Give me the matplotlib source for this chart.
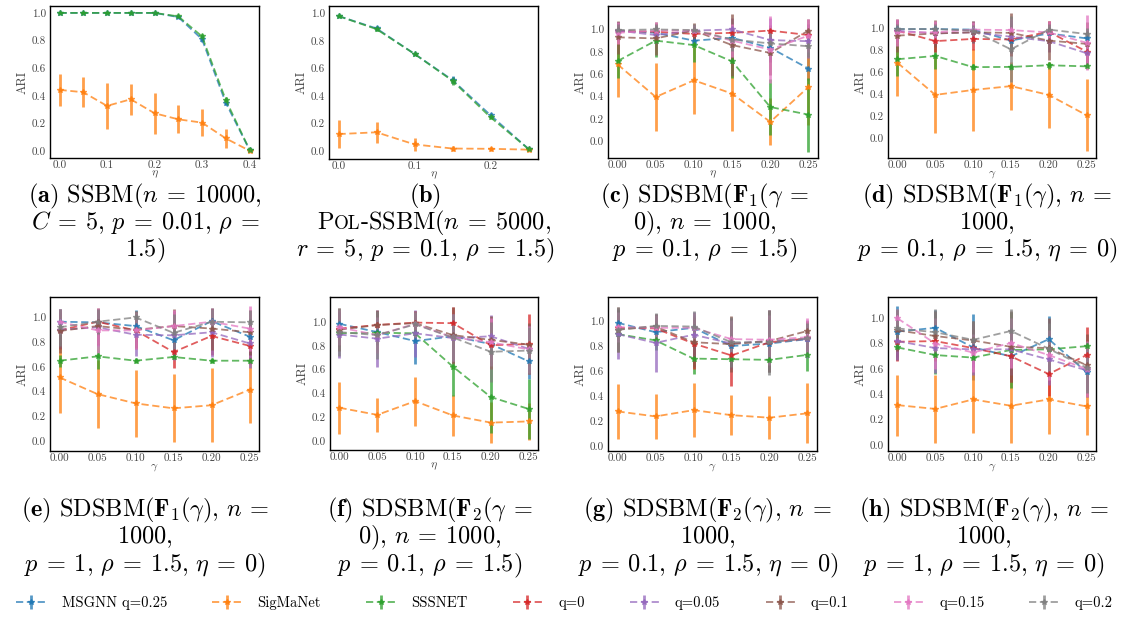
import matplotlib
matplotlib.use("Agg")
import matplotlib.pyplot as plt
import numpy as np

plt.rcParams['font.family'] = ['cmr10', 'DejaVu Serif']
plt.rcParams['mathtext.fontset'] = 'cm'
plt.rcParams['axes.formatter.use_mathtext'] = True

W, H = 1129, 618

labels = ["MSGNN q=0.25", "SigMaNet", "SSSNET", "q=0", "q=0.05", "q=0.1", "q=0.15", "q=0.2"]
colors = ["#1f77b4", "#ff7f0e", "#2ca02c", "#d62728", "#9467bd", "#8c564b", "#e377c2", "#7f7f7f"]

# ---- panel (a): SSBM, eta on x ----
a_x = [0.0, 0.05, 0.1, 0.15, 0.2, 0.25, 0.3, 0.35, 0.4]
a_mean = [
    [1.0, 1.0, 1.0, 1.0, 1.0, 0.97, 0.81, 0.35, 0.01],
    [0.443, 0.426, 0.327, 0.375, 0.274, 0.23, 0.206, 0.092, 0.003],
    [1.0, 1.0, 1.0, 1.0, 1.0, 0.975, 0.83, 0.37, 0.01],
]
a_err = [
    [0.003, 0.003, 0.003, 0.003, 0.005, 0.01, 0.02, 0.02, 0.01],
    [0.115, 0.11, 0.165, 0.113, 0.15, 0.1, 0.1, 0.07, 0.01],
    [0.003, 0.003, 0.003, 0.003, 0.005, 0.01, 0.02, 0.02, 0.01],
]

# ---- panel (b): POL-SSBM, eta on x ----
b_x = [0.0, 0.05, 0.1, 0.15, 0.2, 0.25]
b_mean = [
    [0.98, 0.89, 0.705, 0.515, 0.26, 0.015],
    [0.123, 0.136, 0.048, 0.018, 0.016, 0.01],
    [0.98, 0.885, 0.705, 0.51, 0.245, 0.015],
]
b_err = [
    [0.005, 0.015, 0.01, 0.03, 0.015, 0.01],
    [0.1, 0.075, 0.05, 0.02, 0.015, 0.005],
    [0.005, 0.015, 0.01, 0.03, 0.015, 0.01],
]

g_x = [0.0, 0.05, 0.1, 0.15, 0.2, 0.25]

# ---- panel (c) ----
c_mean = [
    [0.99, 0.97, 0.90, 0.925, 0.836, 0.65],
    [0.688, 0.396, 0.545, 0.426, 0.173, 0.485],
    [0.717, 0.90, 0.86, 0.714, 0.306, 0.238],
    [0.985, 0.98, 0.96, 0.97, 0.99, 0.95],
    [0.99, 0.95, 0.99, 1.0, 0.905, 0.895],
    [0.93, 0.92, 0.99, 0.86, 0.79, 0.99],
    [0.97, 0.99, 0.99, 0.90, 0.82, 0.945],
    [0.995, 1.0, 0.995, 0.91, 0.875, 0.85],
]
c_err = [
    [0.08, 0.05, 0.05, 0.08, 0.1, 0.1],
    [0.29, 0.3, 0.3, 0.33, 0.21, 0.34],
    [0.15, 0.15, 0.15, 0.15, 0.25, 0.33],
    [0.05, 0.05, 0.05, 0.05, 0.05, 0.05],
    [0.08, 0.08, 0.05, 0.1, 0.2, 0.15],
    [0.15, 0.15, 0.07, 0.28, 0.2, 0.1],
    [0.1, 0.08, 0.05, 0.15, 0.3, 0.15],
    [0.05, 0.05, 0.05, 0.1, 0.1, 0.1],
]

# ---- panel (d) ----
d_mean = [
    [0.995, 0.995, 0.99, 0.89, 0.955, 0.91],
    [0.688, 0.395, 0.44, 0.475, 0.395, 0.21],
    [0.72, 0.75, 0.648, 0.65, 0.665, 0.655],
    [0.98, 0.885, 0.905, 0.90, 0.97, 0.79],
    [0.98, 0.955, 0.965, 0.925, 0.885, 0.775],
    [0.935, 0.955, 0.965, 0.96, 0.89, 0.86],
    [0.965, 0.965, 0.99, 0.985, 0.965, 0.87],
    [0.995, 0.995, 0.98, 0.81, 0.99, 0.95],
]
d_err = [
    [0.05, 0.05, 0.05, 0.1, 0.05, 0.05],
    [0.3, 0.345, 0.37, 0.22, 0.3, 0.33],
    [0.15, 0.12, 0.03, 0.03, 0.03, 0.02],
    [0.1, 0.1, 0.1, 0.15, 0.1, 0.1],
    [0.1, 0.1, 0.1, 0.15, 0.1, 0.1],
    [0.15, 0.12, 0.1, 0.18, 0.18, 0.2],
    [0.12, 0.1, 0.07, 0.1, 0.1, 0.25],
    [0.05, 0.05, 0.05, 0.3, 0.05, 0.05],
]

# ---- panel (e) ----
e_mean = [
    [0.965, 0.96, 0.93, 0.815, 0.97, 0.845],
    [0.515, 0.38, 0.305, 0.265, 0.29, 0.415],
    [0.65, 0.685, 0.65, 0.68, 0.65, 0.65],
    [0.895, 0.965, 0.895, 0.72, 0.85, 0.77],
    [0.90, 0.92, 0.86, 0.855, 0.88, 0.79],
    [0.89, 0.93, 0.90, 0.93, 0.91, 0.88],
    [0.965, 0.895, 0.895, 0.93, 0.965, 0.91],
    [0.92, 0.965, 1.0, 0.875, 0.965, 0.96],
]
e_err = [
    [0.1, 0.1, 0.13, 0.15, 0.1, 0.15],
    [0.285, 0.275, 0.27, 0.275, 0.3, 0.265],
    [0.05, 0.1, 0.02, 0.02, 0.02, 0.02],
    [0.15, 0.1, 0.15, 0.13, 0.15, 0.15],
    [0.15, 0.15, 0.17, 0.2, 0.2, 0.2],
    [0.18, 0.15, 0.15, 0.14, 0.17, 0.18],
    [0.1, 0.18, 0.15, 0.13, 0.1, 0.18],
    [0.15, 0.1, 0.05, 0.15, 0.1, 0.1],
]

# ---- panel (f) ----
f_mean = [
    [0.985, 0.915, 0.84, 0.88, 0.815, 0.67],
    [0.28, 0.22, 0.335, 0.215, 0.155, 0.165],
    [0.905, 0.91, 0.905, 0.625, 0.37, 0.27],
    [0.945, 0.975, 0.995, 0.99, 0.805, 0.815],
    [0.895, 0.86, 0.905, 0.865, 0.88, 0.775],
    [0.935, 0.975, 0.99, 0.89, 0.85, 0.81],
    [0.955, 0.89, 0.985, 0.87, 0.83, 0.77],
    [0.915, 0.89, 0.98, 0.87, 0.75, 0.76],
]
f_err = [
    [0.1, 0.1, 0.19, 0.1, 0.1, 0.15],
    [0.22, 0.14, 0.205, 0.17, 0.17, 0.155],
    [0.1, 0.1, 0.05, 0.25, 0.3, 0.25],
    [0.15, 0.12, 0.1, 0.14, 0.2, 0.255],
    [0.2, 0.24, 0.2, 0.2, 0.18, 0.2],
    [0.18, 0.13, 0.1, 0.24, 0.2, 0.18],
    [0.15, 0.15, 0.1, 0.2, 0.2, 0.2],
    [0.2, 0.2, 0.1, 0.2, 0.25, 0.2],
]

# ---- panel (g) ----
gg_mean = [
    [0.985, 0.91, 0.945, 0.80, 0.82, 0.855],
    [0.28, 0.24, 0.29, 0.25, 0.23, 0.265],
    [0.895, 0.845, 0.70, 0.695, 0.69, 0.73],
    [0.945, 0.94, 0.82, 0.725, 0.83, 0.86],
    [0.895, 0.825, 0.89, 0.82, 0.84, 0.855],
    [0.93, 0.955, 0.83, 0.815, 0.84, 0.92],
    [0.95, 0.945, 0.945, 0.855, 0.85, 0.87],
    [0.93, 0.96, 0.955, 0.83, 0.83, 0.86],
]
gg_err = [
    [0.1, 0.1, 0.1, 0.1, 0.2, 0.1],
    [0.22, 0.18, 0.215, 0.16, 0.17, 0.24],
    [0.05, 0.08, 0.12, 0.05, 0.1, 0.13],
    [0.1, 0.1, 0.2, 0.24, 0.2, 0.1],
    [0.2, 0.23, 0.18, 0.2, 0.25, 0.15],
    [0.18, 0.1, 0.2, 0.22, 0.25, 0.08],
    [0.12, 0.1, 0.12, 0.15, 0.2, 0.15],
    [0.18, 0.1, 0.12, 0.2, 0.26, 0.12],
]

# ---- panel (h) ----
h_mean = [
    [0.895, 0.925, 0.77, 0.70, 0.835, 0.575],
    [0.315, 0.285, 0.36, 0.31, 0.36, 0.305],
    [0.77, 0.71, 0.69, 0.75, 0.755, 0.78],
    [0.815, 0.82, 0.765, 0.70, 0.56, 0.71],
    [0.82, 0.765, 0.755, 0.755, 0.675, 0.59],
    [0.905, 0.86, 0.825, 0.775, 0.765, 0.63],
    [1.0, 0.80, 0.73, 0.805, 0.71, 0.60],
    [0.92, 0.89, 0.83, 0.90, 0.76, 0.61],
]
h_err = [
    [0.2, 0.14, 0.26, 0.2, 0.18, 0.15],
    [0.24, 0.265, 0.265, 0.295, 0.27, 0.225],
    [0.1, 0.15, 0.05, 0.3, 0.05, 0.05],
    [0.15, 0.15, 0.15, 0.2, 0.17, 0.22],
    [0.15, 0.2, 0.2, 0.2, 0.2, 0.15],
    [0.16, 0.2, 0.15, 0.28, 0.24, 0.25],
    [0.07, 0.2, 0.15, 0.2, 0.2, 0.22],
    [0.15, 0.18, 0.15, 0.17, 0.2, 0.2],
]

fig = plt.figure(figsize=(W / 100, H / 100), dpi=100)


def add_ax(l, r, t, b):
    return fig.add_axes([l / W, 1 - b / H, (r - l) / W, (b - t) / H])


def draw(ax, x, means, errs, xlabel, ylim, xticks, xfmt):
    hs = []
    for i, (m, e) in enumerate(zip(means, errs)):
        h = ax.errorbar(x, m, yerr=e, fmt='--', marker='*', ms=4,
                        color=colors[i], lw=1.3, elinewidth=2, alpha=0.75,
                        capsize=0, dashes=(4, 2))
        hs.append(h)
    ax.set_ylim(*ylim)
    span = x[-1] - x[0]
    ax.set_xlim(x[0] - 0.05 * span, x[-1] + 0.05 * span)
    ax.set_yticks([0.0, 0.2, 0.4, 0.6, 0.8, 1.0])
    ax.set_yticklabels(["%.1f" % v for v in [0.0, 0.2, 0.4, 0.6, 0.8, 1.0]])
    ax.set_xticks(xticks)
    ax.set_xticklabels([xfmt % v for v in xticks])
    ax.tick_params(axis='y', length=0, pad=3, labelsize=8, labelcolor='#444444')
    ax.tick_params(axis='x', length=0, pad=2, labelsize=8, labelcolor='#444444')
    ax.set_ylabel("ARI", fontsize=9, color='#444444', labelpad=2)
    ax.set_xlabel(xlabel, fontsize=8.5, color='#444444', labelpad=-1)
    for s in ax.spines.values():
        s.set_linewidth(1.0)
    return hs


eta = r"$\eta$"
gam = r"$\gamma$"
six = [0.0, 0.05, 0.1, 0.15, 0.2, 0.25]

ax = add_ax(50, 259, 6, 158)
draw(ax, a_x, a_mean, a_err, eta, (-0.05, 1.05), [0.0, 0.1, 0.2, 0.3, 0.4], "%.1f")
ax = add_ax(329, 538, 6, 159)
draw(ax, b_x, b_mean, b_err, eta, (-0.058, 1.053), [0.0, 0.1, 0.2], "%.1f")
ax = add_ax(608, 818, 6, 158)
hs = draw(ax, g_x, c_mean, c_err, eta, (-0.15, 1.21), six, "%.2f")
ax = add_ax(888, 1096, 6, 158)
draw(ax, g_x, d_mean, d_err, gam, (-0.18, 1.205), six, "%.2f")
ax = add_ax(50, 259, 297, 451)
draw(ax, g_x, e_mean, e_err, gam, (-0.08, 1.165), six, "%.2f")
ax = add_ax(330, 538, 297, 450)
draw(ax, g_x, f_mean, f_err, eta, (-0.075, 1.21), six, "%.2f")
ax = add_ax(608, 817, 297, 451)
draw(ax, g_x, gg_mean, gg_err, gam, (-0.035, 1.19), six, "%.2f")
ax = add_ax(888, 1096, 297, 451)
draw(ax, g_x, h_mean, h_err, gam, (-0.047, 1.168), six, "%.2f")

CFS = 17.5


def cap(cx, cys, lines):
    for cy, ln in zip(cys, lines):
        if ln is None:
            continue
        fig.text(cx / W, 1 - cy / H, ln, ha='center', va='baseline', fontsize=CFS)


top = [202, 229, 256]
bot = [516, 543, 571]
EQ = r"\:=\:"
CM = r",\,"
cap(145, top, [r"$\mathbf{(a)}$ SSBM($n" + EQ + r"10000,$",
               r"$C" + EQ + "5" + CM + "p" + EQ + "0.01" + CM + r"\rho" + EQ + "$",
               r"$1.5)$"])
cap(425, top, [r"$\mathbf{(b)}$", None,
               r"$r" + EQ + "5" + CM + "p" + EQ + "0.1" + CM + r"\rho" + EQ + "1.5)$"])
cap(705, top, [r"$\mathbf{(c)}$ SDSBM($\mathbf{F}_1(\gamma" + EQ + "$",
               r"$0)" + CM + "n" + EQ + "1000,$",
               r"$p" + EQ + "0.1" + CM + r"\rho" + EQ + "1.5)$"])
cap(987, top, [r"$\mathbf{(d)}$ SDSBM($\mathbf{F}_1(\gamma)" + CM + "n" + EQ + "$",
               r"$1000,$",
               r"$p" + EQ + "0.1" + CM + r"\rho" + EQ + "1.5" + CM + r"\eta" + EQ + "0)$"])
cap(145, bot, [r"$\mathbf{(e)}$ SDSBM($\mathbf{F}_1(\gamma)" + CM + "n" + EQ + "$",
               r"$1000,$",
               r"$p" + EQ + "1" + CM + r"\rho" + EQ + "1.5" + CM + r"\eta" + EQ + "0)$"])
cap(430, bot, [r"$\mathbf{(f)}$ SDSBM($\mathbf{F}_2(\gamma" + EQ + "$",
               r"$0)" + CM + "n" + EQ + "1000,$",
               r"$p" + EQ + "0.1" + CM + r"\rho" + EQ + "1.5)$"])
cap(708, bot, [r"$\mathbf{(g)}$ SDSBM($\mathbf{F}_2(\gamma)" + CM + "n" + EQ + "$",
               r"$1000,$",
               r"$p" + EQ + "0.1" + CM + r"\rho" + EQ + "1.5" + CM + r"\eta" + EQ + "0)$"])
cap(984, bot, [r"$\mathbf{(h)}$ SDSBM($\mathbf{F}_2(\gamma)" + CM + "n" + EQ + "$",
               r"$1000,$",
               r"$p" + EQ + "1" + CM + r"\rho" + EQ + "1.5" + CM + r"\eta" + EQ + "0)$"])

# small-caps "Pol-SSBM" line for (b)
segs = [("P", CFS), ("OL", CFS * 0.78), ("-SSBM($n" + EQ + "5000,$", CFS)]
renderer = fig.canvas.get_renderer()
texts = []
widths = []
for s, fs in segs:
    t = fig.text(0, 1 - top[1] / H, s, ha='left', va='baseline', fontsize=fs)
    texts.append(t)
    widths.append(t.get_window_extent(renderer).width)
total = sum(widths)
x0 = 434 - total / 2
for t, w in zip(texts, widths):
    t.set_position((x0 / W, 1 - top[1] / H))
    x0 += w

fig.legend(hs, labels, loc='center', bbox_to_anchor=(0.5, 1 - 603 / H), ncol=8,
           frameon=False, fontsize=10.5, columnspacing=3.1, handlelength=2.0,
           handletextpad=1.1)

fig.savefig("out.png", dpi=100)
